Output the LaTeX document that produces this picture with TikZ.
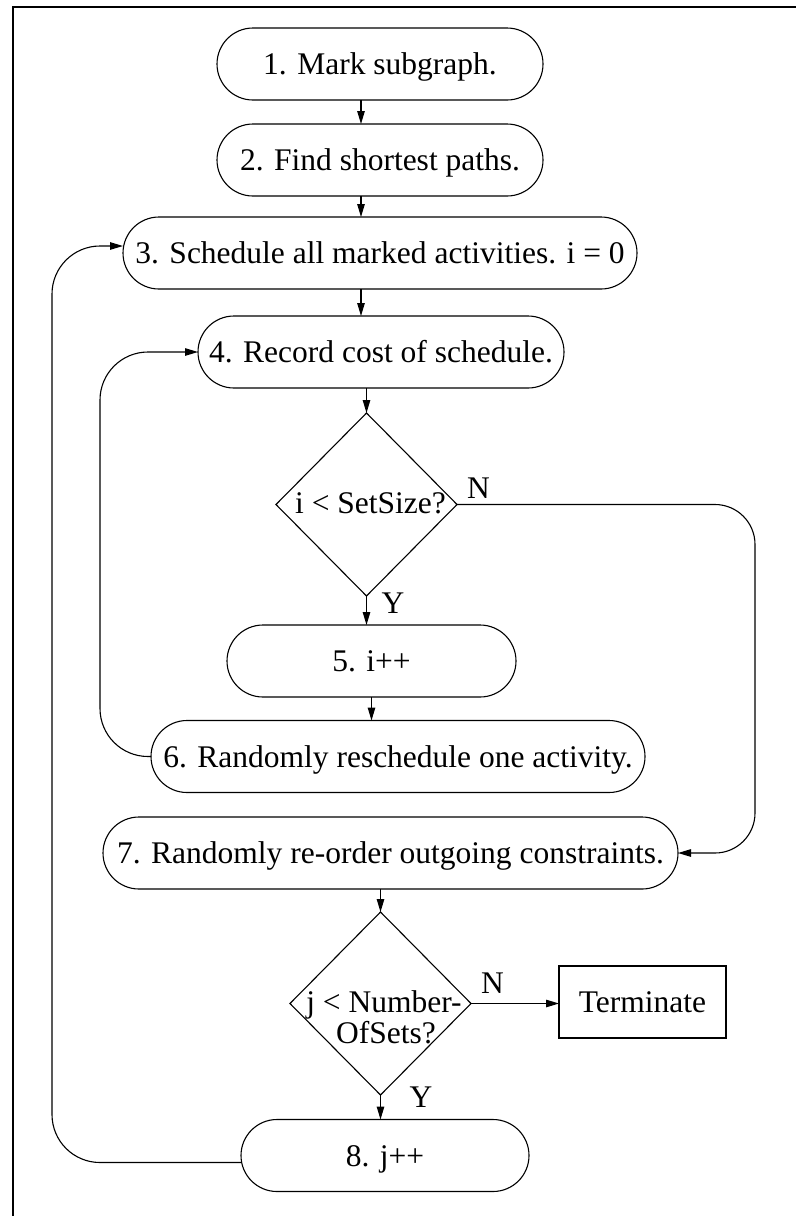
\documentclass[tikz,border=0pt]{standalone}
\usepackage{fontspec}
\setmainfont{Liberation Serif}
\usetikzlibrary{arrows.meta,shapes.geometric,calc}
\begin{document}
\begin{tikzpicture}[x=1pt,y=-1pt,
  every node/.style={font=\fontsize{31.5pt}{31pt}\selectfont},
  stadium/.style={draw, rectangle, rounded corners=36pt, minimum height=72pt,
    inner sep=0pt, outer sep=0pt, text height=21pt, text depth=0pt, line width=1.1pt},
  decision/.style={draw, diamond, shape aspect=1, minimum width=181pt, minimum height=183pt,
    inner sep=0pt, outer sep=0pt, line width=1.1pt},
  stopbox/.style={draw, rectangle, minimum width=167pt, minimum height=72pt,
    inner sep=0pt, outer sep=0pt, text height=21pt, text depth=0pt, line width=1.1pt},
  arr/.style={line width=1.1pt, -{Triangle[length=13pt,width=7.5pt]}},
  txt/.style={inner sep=0pt, anchor=base}]

\useasboundingbox (0,0) rectangle (796,1216);

% outer frame (top and left edges)
\draw[line width=1.1pt] (13,1216) -- (13,7) -- (796,7);

% process steps
\node[stadium, minimum width=326pt] (n1) at (380,64)    {1. Mark subgraph.};
\node[stadium, minimum width=326pt] (n2) at (380,160)   {2. Find shortest paths.};
\node[stadium, minimum width=514pt] (n3) at (380,253)   {3. Schedule all marked activities. i = 0};
\node[stadium, minimum width=366pt] (n4) at (381,352)   {4. Record cost of schedule.};
\node[decision] (d1) at (366.5,504.5) {};
\node[stadium, minimum width=289pt] (n5) at (371.5,661) {5. i++};
\node[stadium, minimum width=494pt] (n6) at (398,756.5) {6. Randomly reschedule one activity.};
\node[stadium, minimum width=575pt] (n7) at (390.5,853) {7. Randomly re-order outgoing constraints.};
\node[decision] (d2) at (380.5,1003.5) {};
\node[stopbox] (term) at (642.5,1002) {Terminate};
\node[stadium, minimum width=288pt] (n8) at (385,1155.5) {8. j++};

% decision texts
\node[txt] (q1)  at (370.5,513)  {i < SetSize?};
\node[txt] (q2a) at (384,1012.5) {j < Number-};
\node[txt] (q2b) at (386,1043)   {OfSets?};

% branch labels
\node[txt] (lN1) at (478.5,498) {N};
\node[txt] (lY1) at (393,613)   {Y};
\node[txt] (lN2) at (492.5,993) {N};
\node[txt] (lY2) at (421,1107)  {Y};

% routing coordinates
\coordinate (spine) at (361,0);
\coordinate (rcol) at (755,700);
\coordinate (lcol) at (100,550);
\coordinate (ocol) at (52,700);

% straight connectors
\draw[arr] (n1.south -| spine) -- (n2.north -| spine);
\draw[arr] (n2.south -| spine) -- (n3.north -| spine);
\draw[arr] (n3.south -| spine) -- (n4.north -| spine);
\draw[arr] (n4.south -| d1.north) -- (d1.north);
\draw[arr] (d1.south) -- (d1.south |- n5.north);
\draw[arr] (n5.south) -- (n5.south |- n6.north);
\draw[arr] (n7.south -| d2.north) -- (d2.north);
\draw[arr] (d2.south) -- (d2.south |- n8.north);
\draw[arr] (d2.east) -- (d2.east -| term.west);

% N branch of the first test
\draw[arr, rounded corners=40pt] (d1.east) -| (rcol) |- (n7.east);

% inner loop back to step 4
\draw[arr, rounded corners=48pt] (n6.west) -| (lcol) |- (n4.west);

% outer loop back to step 3
\draw[arr, rounded corners=48pt] ([yshift=-7pt]n8.west) -| (ocol) |- ([yshift=7pt]n3.west);
\end{tikzpicture}
\end{document}
